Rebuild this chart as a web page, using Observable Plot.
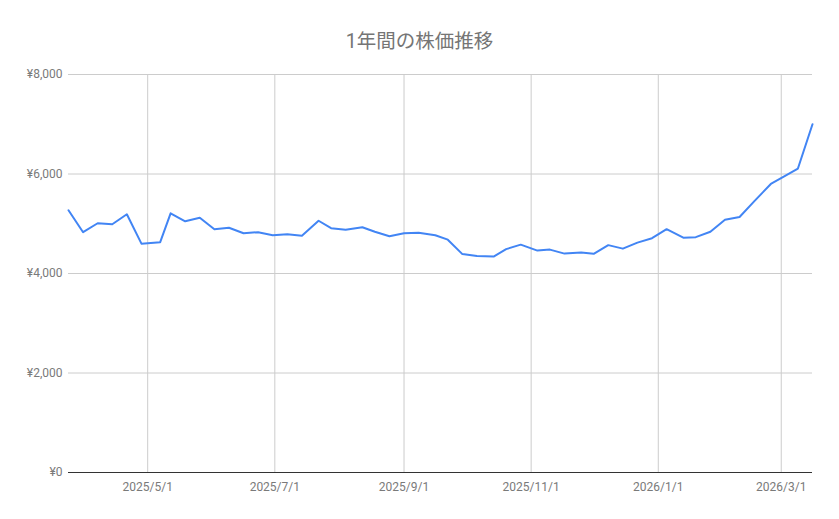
<!DOCTYPE html>
<html>
<head>
<meta charset="utf-8">
<script src="https://cdn.jsdelivr.net/npm/d3@7"></script>
<script src="https://cdn.jsdelivr.net/npm/@observablehq/plot@0.6"></script>
<style>
  html, body { margin: 0; padding: 0; background: #fff; }
  #wrap { position: relative; width: 839px; height: 519px; font-family: Roboto, "Noto Sans CJK JP", sans-serif; }
  #title { position: absolute; left: 0; top: 25px; width: 839px; text-align: center; font-size: 19.5px; color: #757575; font-family: Roboto, "Noto Sans CJK JP", sans-serif; }
</style>
</head>
<body>
<div id="wrap"><div id="title">1年間の株価推移</div></div>
<script>
const titleText = "1年間の株価推移";
const dates = [
  "2025-03-24","2025-03-31","2025-04-07","2025-04-14","2025-04-21","2025-04-28","2025-05-07","2025-05-12",
  "2025-05-19","2025-05-26","2025-06-02","2025-06-09","2025-06-16","2025-06-23","2025-06-30","2025-07-07",
  "2025-07-14","2025-07-22","2025-07-28","2025-08-04","2025-08-12","2025-08-18","2025-08-25","2025-09-01",
  "2025-09-08","2025-09-16","2025-09-22","2025-09-29","2025-10-06","2025-10-14","2025-10-20","2025-10-27",
  "2025-11-04","2025-11-10","2025-11-17","2025-11-25","2025-12-01","2025-12-08","2025-12-15","2025-12-22",
  "2025-12-29","2026-01-05","2026-01-13","2026-01-19","2026-01-26","2026-02-02","2026-02-09","2026-02-16",
  "2026-02-24","2026-03-02","2026-03-09","2026-03-16"
];
const prices = [
  5270, 4830, 5010, 4990, 5190, 4600, 4630, 5210,
  5050, 5120, 4890, 4920, 4810, 4830, 4770, 4790,
  4760, 5060, 4910, 4880, 4930, 4840, 4750, 4810,
  4820, 4770, 4680, 4390, 4350, 4340, 4490, 4580,
  4460, 4480, 4400, 4420, 4395, 4570, 4500, 4620,
  4710, 4890, 4720, 4730, 4840, 5080, 5135, 5450,
  5800, 5940, 6110, 7000
];
const yTicks = [0, 2000, 4000, 6000, 8000];
const xTickDates = ["2025-05-01","2025-07-01","2025-09-01","2025-11-01","2026-01-01","2026-03-01"];

const parse = d3.utcParse("%Y-%m-%d");
const data = dates.map((d, i) => ({date: parse(d), price: prices[i]}));
const xTicks = xTickDates.map(parse);
const fmtDate = d3.utcFormat("%Y/%-m/%-d");
const fmtYen = d => "¥" + d3.format(",")(d);

const chart = Plot.plot({
  width: 839,
  height: 519,
  marginLeft: 68,
  marginRight: 27,
  marginTop: 74,
  marginBottom: 47,
  style: {fontFamily: "Roboto, sans-serif", fontSize: "12px", color: "#757575", background: "transparent"},
  x: {type: "utc", domain: [data[0].date, data[data.length - 1].date], ticks: xTicks, tickFormat: fmtDate, tickSize: 0, tickPadding: 10, label: null},
  y: {domain: [0, 8000], ticks: yTicks, tickFormat: fmtYen, tickSize: 0, tickPadding: 6, label: null},
  marks: [
    Plot.gridY(yTicks, {stroke: "#cccccc", strokeOpacity: 1}),
    Plot.gridX(xTicks, {stroke: "#cccccc", strokeOpacity: 1}),
    Plot.axisY(yTicks, {tickFormat: fmtYen, tickSize: 0, tickPadding: 6, fill: "#7a7a7a"}),
    Plot.axisX(xTicks, {tickFormat: fmtDate, tickSize: 0, tickPadding: 10, fill: "#7a7a7a"}),
    Plot.ruleY([0], {stroke: "#333333", strokeWidth: 1.2}),
    Plot.line(data, {x: "date", y: "price", stroke: "#4285F4", strokeWidth: 2, strokeLinejoin: "round"})
  ]
});
chart.style.position = "absolute";
chart.style.left = "0";
chart.style.top = "0";
document.getElementById("wrap").appendChild(chart);
document.getElementById("title").textContent = titleText;
</script>
</body>
</html>
